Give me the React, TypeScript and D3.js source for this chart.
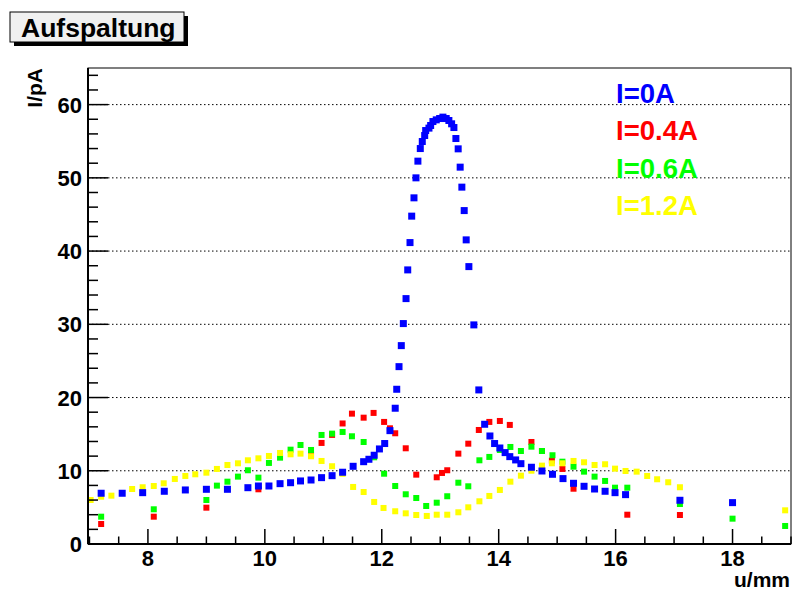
import React from "react";
import * as d3 from "d3";

// I=0A
const blueX = [7.2, 7.56, 7.91, 8.28, 8.64, 9.0, 9.36, 9.71, 9.89, 10.07, 10.26, 10.44, 10.61, 10.79, 10.97, 11.15, 11.33, 11.51, 11.69, 11.78, 11.87, 11.96, 12.05, 12.14, 12.23, 12.256, 12.295, 12.334, 12.369, 12.415, 12.444, 12.483, 12.512, 12.551, 12.585, 12.618, 12.659, 12.693, 12.734, 12.751, 12.807, 12.836, 12.875, 12.932, 12.99, 13.046, 13.102, 13.148, 13.195, 13.234, 13.268, 13.307, 13.341, 13.37, 13.41, 13.444, 13.49, 13.575, 13.66, 13.76, 13.85, 13.93, 14.02, 14.11, 14.19, 14.29, 14.38, 14.56, 14.74, 14.92, 15.1, 15.28, 15.46, 15.64, 15.82, 15.99, 16.17, 17.1, 18.0];
const blueY = [6.93, 6.93, 7.01, 7.2, 7.38, 7.47, 7.47, 7.69, 7.92, 7.92, 8.24, 8.37, 8.61, 8.74, 9.06, 9.33, 9.8, 10.61, 11.24, 11.57, 12.12, 12.98, 13.72, 15.48, 18.54, 21.13, 24.22, 27.09, 30.1, 33.51, 37.43, 41.16, 44.77, 47.27, 50.0, 52.28, 54.0, 54.96, 55.78, 56.46, 56.79, 57.15, 57.69, 57.92, 58.1, 58.29, 58.1, 57.83, 57.38, 56.87, 55.37, 53.96, 51.46, 48.73, 45.53, 41.53, 37.88, 29.92, 21.04, 16.35, 14.75, 13.72, 13.11, 12.48, 11.93, 11.48, 10.97, 10.48, 9.97, 9.52, 8.93, 8.29, 7.88, 7.51, 7.2, 7.01, 6.74, 5.97, 5.65];

// I=0.4A
const redX = [7.2, 8.1, 9.0, 9.89, 10.79, 10.97, 11.15, 11.33, 11.49, 11.69, 11.86, 12.04, 12.14, 12.23, 12.41, 12.59, 12.94, 13.03, 13.12, 13.31, 13.48, 13.66, 13.84, 14.02, 14.19, 14.56, 14.74, 14.91, 15.09, 15.28, 16.2, 17.1];
const redY = [2.73, 3.73, 4.96, 7.47, 12.16, 13.8, 14.9, 16.46, 17.8, 17.25, 17.9, 16.67, 15.8, 15.12, 13.07, 9.47, 9.11, 9.7, 10.07, 12.34, 13.7, 15.57, 16.67, 16.8, 16.26, 13.93, 12.7, 11.38, 10.25, 7.55, 4.0, 3.96];

// I=0.6A
const greenX = [7.2, 8.1, 9.0, 9.18, 9.36, 9.54, 9.71, 9.89, 10.07, 10.26, 10.44, 10.61, 10.79, 10.97, 11.15, 11.33, 11.49, 11.69, 11.87, 12.04, 12.23, 12.41, 12.59, 12.76, 12.94, 13.12, 13.31, 13.48, 13.67, 13.84, 14.02, 14.2, 14.38, 14.56, 14.74, 14.92, 15.09, 15.28, 15.46, 15.64, 15.82, 15.99, 16.2, 17.1, 18.0, 18.9];
const greenY = [3.73, 4.74, 6.01, 7.97, 8.51, 9.2, 10.07, 9.06, 11.07, 11.79, 12.88, 13.52, 12.84, 14.89, 15.07, 15.3, 14.71, 13.93, 11.84, 9.6, 7.92, 6.79, 6.28, 5.19, 5.64, 6.52, 8.37, 7.88, 11.43, 11.89, 12.84, 13.25, 12.7, 13.29, 12.7, 12.12, 11.24, 10.56, 9.88, 9.2, 8.61, 7.69, 7.69, 5.46, 3.46, 2.46];

// I=1.2A
const yellowX = [7.02, 7.2, 7.375, 7.73, 7.91, 8.1, 8.27, 8.46, 8.64, 8.81, 9.0, 9.18, 9.36, 9.54, 9.71, 9.89, 10.07, 10.26, 10.44, 10.61, 10.79, 10.97, 11.15, 11.33, 11.51, 11.69, 11.87, 12.03, 12.23, 12.41, 12.59, 12.77, 12.94, 13.12, 13.31, 13.48, 13.67, 13.84, 14.02, 14.2, 14.38, 14.56, 14.74, 14.91, 15.09, 15.28, 15.46, 15.64, 15.82, 15.99, 16.17, 16.36, 16.54, 16.71, 16.9, 17.1, 18.9];
const yellowY = [6.01, 6.46, 6.6, 7.51, 7.75, 7.92, 8.29, 8.88, 9.29, 9.52, 9.74, 10.25, 10.79, 11.02, 11.43, 11.7, 12.02, 12.43, 12.25, 12.34, 11.98, 11.34, 10.62, 9.59, 7.79, 7.1, 5.74, 4.92, 4.47, 4.19, 3.96, 3.83, 4.0, 4.0, 4.33, 5.01, 5.83, 6.56, 7.38, 8.51, 9.33, 10.01, 10.7, 11.02, 11.02, 11.34, 11.16, 10.79, 10.89, 10.29, 9.97, 9.88, 9.29, 8.84, 8.43, 7.75, 4.6];

const legendLabels = ["I=0A", "I=0.4A", "I=0.6A", "I=1.2A"];
const legendColors = ["#0000ff", "#ff0000", "#00ff00", "#ffff00"];

const xTicks = [8, 10, 12, 14, 16, 18];
const yTicks = [0, 10, 20, 30, 40, 50, 60];

const W = 793;
const H = 592;
const font = "'Liberation Sans', Arial, Helvetica, sans-serif";

const App: React.FC = () => {
  const left = 88, right = 791, top = 68, bottom = 544;

  const x = d3.scaleLinear().domain([6.975, 19]).range([left, right]);
  const y = d3.scaleLinear().domain([0, 65]).range([bottom, top]);

  const xMinor = d3.range(7, 19.01, 0.5).filter(v => !xTicks.includes(v));
  const yMinor = d3.range(0, 65, 2).filter(v => v % 10 !== 0);

  // draw order: red, green, yellow, blue on top
  const series = [
    { xs: redX, ys: redY, color: "#ff0000", size: 6 },
    { xs: greenX, ys: greenY, color: "#00ff00", size: 6 },
    { xs: yellowX, ys: yellowY, color: "#ffff00", size: 6 },
    { xs: blueX, ys: blueY, color: "#0000ff", size: 7 },
  ];

  return (
    <div style={{ position: "absolute", left: 0, top: 0 }}>
      <svg width={W} height={H} style={{ display: "block", background: "#fff" }}>
        {/* title box */}
        <rect x={14} y={16} width={174} height={30} fill="#000" />
        <rect x={10} y={12} width={174} height={30} fill="#f0f0f0" stroke="#000" strokeWidth={1} />
        <text x={21} y={36.5} fontFamily={font} fontWeight="bold" fontSize={26.5} fill="#000">Aufspaltung</text>

        {/* grid */}
        {yTicks.filter(v => v > 0).map(v => (
          <line key={"g" + v} x1={left} x2={right} y1={y(v)} y2={y(v)}
            stroke="#000" strokeWidth={1} strokeDasharray="1.5,2.5" />
        ))}

        {/* markers */}
        {series.map((s, si) => (
          <g key={si}>
            {s.xs.map((xv, i) => (
              <rect key={i} x={x(xv) - s.size / 2} y={y(s.ys[i]) - s.size / 2}
                width={s.size} height={s.size} fill={s.color} />
            ))}
          </g>
        ))}

        {/* frame */}
        <rect x={left} y={top} width={right - left} height={bottom - top}
          fill="none" stroke="#000" strokeWidth={1} />
        <line x1={left} x2={right} y1={bottom} y2={bottom} stroke="#000" strokeWidth={2} />
        <line x1={left} x2={left} y1={top} y2={bottom} stroke="#000" strokeWidth={2} />

        {/* x ticks */}
        {xTicks.map(v => (
          <g key={"xt" + v}>
            <line x1={x(v)} x2={x(v)} y1={bottom} y2={bottom - 15} stroke="#000" strokeWidth={1.5} />
            <text x={x(v)} y={566} textAnchor="middle" fontFamily={font} fontWeight="bold" fontSize={22}>{v}</text>
          </g>
        ))}
        {xMinor.map(v => (
          <line key={"xm" + v} x1={x(v)} x2={x(v)} y1={bottom} y2={bottom - 7.5} stroke="#000" strokeWidth={1.5} />
        ))}

        {/* y ticks */}
        {yTicks.map(v => (
          <g key={"yt" + v}>
            <line x1={left} x2={left + 20} y1={y(v)} y2={y(v)} stroke="#000" strokeWidth={1.5} />
            <text x={82} y={y(v) + 8} textAnchor="end" fontFamily={font} fontWeight="bold" fontSize={22}>{v}</text>
          </g>
        ))}
        {yMinor.map(v => (
          <line key={"ym" + v} x1={left} x2={left + 10} y1={y(v)} y2={y(v)} stroke="#000" strokeWidth={1.5} />
        ))}

        {/* axis titles */}
        <text x={790} y={587} textAnchor="end" fontFamily={font} fontWeight="bold" fontSize={21}>u/mm</text>
        <text transform="translate(42,68) rotate(-90)" textAnchor="end" fontFamily={font} fontWeight="bold" fontSize={21}>I/pA</text>

        {/* legend */}
        {legendLabels.map((l, i) => (
          <text key={l} x={616} y={103 + i * 37.3} fontFamily={font} fontWeight="bold" fontSize={27.5} fill={legendColors[i]}>{l}</text>
        ))}
      </svg>
    </div>
  );
};

export default App;
